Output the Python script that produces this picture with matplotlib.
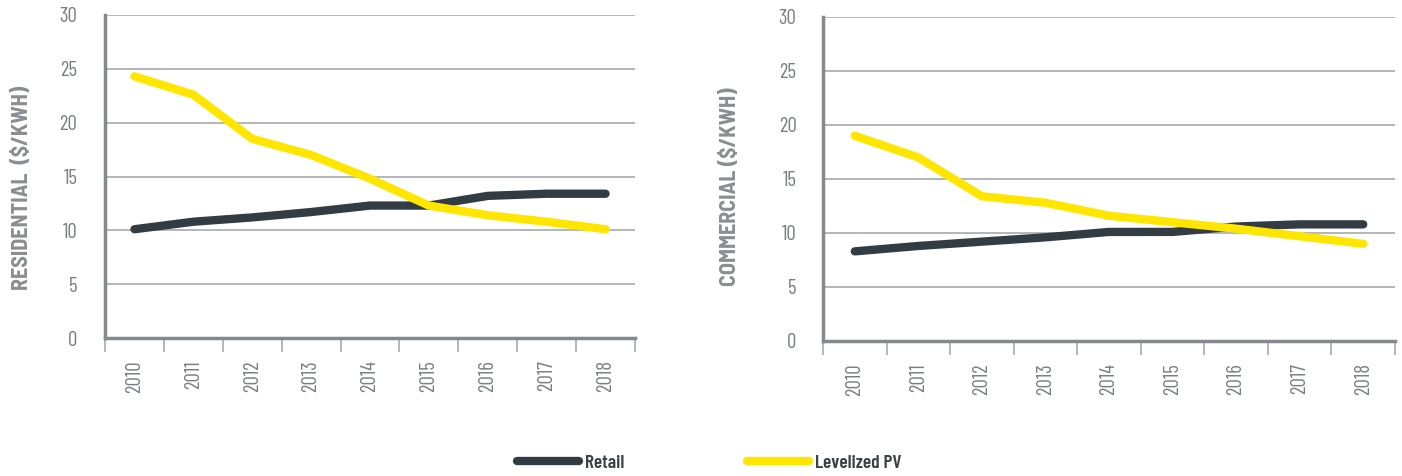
import matplotlib
matplotlib.use('Agg')
import matplotlib.pyplot as plt
from matplotlib.ticker import FixedLocator, NullFormatter

# Data
years = ['2010', '2011', '2012', '2013', '2014', '2015', '2016', '2017', '2018']
res_retail = [10.1, 10.8, 11.2, 11.7, 12.3, 12.3, 13.2, 13.4, 13.4]
res_pv = [24.3, 22.6, 18.5, 17.0, 14.8, 12.3, 11.4, 10.8, 10.1]
com_retail = [8.3, 8.8, 9.2, 9.6, 10.1, 10.1, 10.6, 10.8, 10.8]
com_pv = [19.0, 17.0, 13.4, 12.8, 11.6, 11.0, 10.4, 9.7, 9.0]
y_ticks = [0, 5, 10, 15, 20, 25, 30]

DARK = '#333c43'
YELLOW = '#ffe600'
GRID = '#a7aaae'
SPINE = '#85898e'
TICKTXT = '#7a7e84'
LABEL = '#8a8e93'
COND = ['Barlow Condensed', 'Roboto Condensed', 'DejaVu Sans']
SEMI = ['Barlow Semi Condensed', 'Roboto Condensed', 'DejaVu Sans']

plt.rcParams['font.family'] = COND

fig = plt.figure(figsize=(14.02, 4.76), dpi=100)
ax1 = fig.add_axes([105 / 1402, 1 - 338 / 476, 530 / 1402, 323 / 476])
ax2 = fig.add_axes([823 / 1402, 1 - 341 / 476, 572 / 1402, 324 / 476])


def style(ax, retail, pv, label, label_xy, ypad):
    x = list(range(len(years)))
    ax.plot(x, retail, color=DARK, lw=6, solid_capstyle='round',
            solid_joinstyle='round', label='Retail', zorder=3)
    ax.plot(x, pv, color=YELLOW, lw=6, solid_capstyle='round',
            solid_joinstyle='round', label='Levelized PV', zorder=4)
    ax.set_xlim(-0.5, len(years) - 0.5)
    ax.set_ylim(0, 30)
    ax.set_yticks(y_ticks)
    ax.set_yticklabels([str(t) for t in y_ticks])
    ax.set_xticks(x)
    ax.set_xticklabels(years, rotation=90, va='top')
    ax.xaxis.set_minor_locator(FixedLocator([i - 0.5 for i in range(len(years) + 1)]))
    ax.xaxis.set_minor_formatter(NullFormatter())
    ax.tick_params(axis='x', which='major', length=0, pad=16,
                   labelsize=15, labelcolor=TICKTXT)
    ax.tick_params(axis='x', which='minor', length=10, width=1.2,
                   color=GRID, direction='out')
    ax.tick_params(axis='y', length=0, pad=ypad, labelsize=15, labelcolor=TICKTXT)
    ax.grid(axis='y', color=GRID, lw=1.2, zorder=0)
    ax.set_axisbelow(True)
    for s in ('top', 'right'):
        ax.spines[s].set_visible(False)
    for s in ('left', 'bottom'):
        ax.spines[s].set_color(SPINE)
        ax.spines[s].set_linewidth(2.5)
    ax.set_ylabel(label, fontsize=16, fontweight='bold', color=LABEL, family=SEMI)
    ax.yaxis.set_label_coords(*label_xy)


style(ax1, res_retail, res_pv, 'RESIDENTIAL  ($/KWH)', (-0.138, 0.464), 20)
style(ax2, com_retail, com_pv, 'COMMERCIAL ($/KWH)', (-0.145, 0.477), 19)

handles, labels = ax1.get_legend_handles_labels()
fig.legend(handles, labels, loc='center left', bbox_to_anchor=(517 / 1402, 1 - 463 / 476),
           ncol=2, frameon=False, handlelength=3.2, handletextpad=0.3,
           columnspacing=6.3, borderpad=0, borderaxespad=0,
           prop={'family': COND, 'weight': 'semibold', 'size': 14},
           labelcolor='#3d4246')

fig.savefig('out.png', dpi=100)
